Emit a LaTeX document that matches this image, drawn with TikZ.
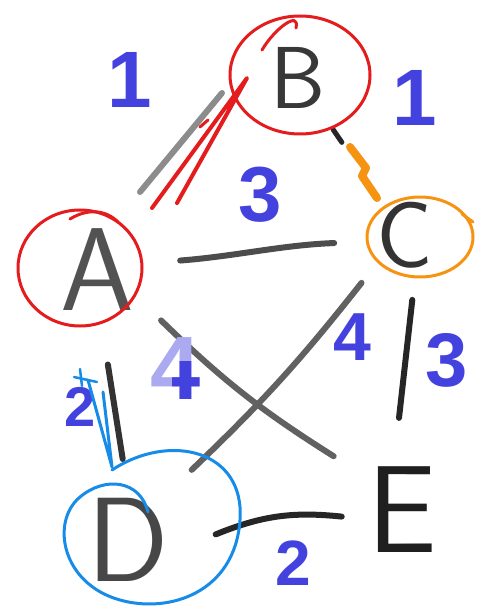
\documentclass[tikz,border=0pt]{standalone}
\usepackage{fontspec}
\newfontfamily\numfont{Liberation Sans}
\usetikzlibrary{calc}
\definecolor{wtblue}{RGB}{68,66,222}
\definecolor{markred}{RGB}{228,28,30}
\definecolor{markorange}{RGB}{246,148,18}
\definecolor{markblue}{RGB}{22,140,232}
\tikzset{
  vertex/.style={inner sep=0pt, font=\fontsize{#1}{#1}\selectfont\sffamily},
  weight/.style={inner sep=0pt, text=wtblue, font=\fontsize{#1}{#1}\selectfont\numfont\bfseries},
  edge/.style={line width=6pt, black!70},
  ring/.style={line width=3pt}
}
\begin{document}
\begin{tikzpicture}[x=1pt, y=-1pt, line cap=round, line join=round]
    \useasboundingbox[fill=white] (0,0) rectangle (480,609);

    % Vertices
    \node[vertex=118, text=black!68] (A) at (97,270) {A};
    \node[vertex=88, text=black!78] (B) at (298,78) {B};
    \node[vertex=94, text=black!80] (C) at (405,235) {C};
    \node[vertex=120, text=black!72] (D) at (128,540) {D};
    \node[vertex=124, text=black!88] (E) at (402,510) {E};

    % Edges
    \draw[edge, black!45] ($(A)+(43,-78)$) -- ($(B)+(-76,15)$);
    \draw[edge, black!85, line width=5pt] ($(B)!.33!(C)$) -- ($(B)!.41!(C)$);
    \draw[edge] ($(A)!.27!(C)$) .. controls ($(A)!.45!(C)+(0,2)$) and ($(A)!.6!(C)+(0,-4)$) .. ($(A)!.77!(C)$);
    \draw[edge, black!62] ($(A)!.21!(E)$) to[bend right=6] ($(A)!.776!(E)$);
    \draw[edge, black!62] ($(C)!.157!(D)$) to[bend left=4] ($(C)!.77!(D)$);
    \draw[edge, black!85] ($(C)!.236!(E)+(8,0)$) -- ($(C)!.665!(E)-(4,0)$);
    \draw[edge, black!80] ($(A)!.35!(D)$) -- ($(A)!.70!(D)+(4,0)$);
    \draw[edge, black!85] ($(D)!.32!(E)+(0,4)$) to[bend left=14] ($(D)!.78!(E)$);

    % Weights
    \node[weight=80] (wAB) at (130,80) {1};
    \node[weight=80] (wBC) at (415,98) {1};
    \node[weight=78] (wAC) at (260,195) {3};
    \node[weight=68] (wCD) at (352,337) {4};
    \node[weight=76] (wCE) at (447,360) {3};
    \node[weight=90, text=wtblue!45] (wAE) at (176,369) {4};
    \begin{scope}
      \clip (172,361) rectangle (200,410);
      \node[weight=90] at (176,369) {4};
    \end{scope}
    \node[weight=56] (wAD) at (80,407) {2};
    \node[weight=64] (wDE) at (293,563) {2};

    % Red marks on A and B
    \draw[ring, markred] (80,268) ellipse [x radius=62, y radius=58];
    \draw[ring, markred] (70,219) .. controls (88,208) and (106,210) .. (118,222);
    \draw[ring, markred] (300,75) ellipse [x radius=70, y radius=59];
    \draw[ring, markred] (262,50) .. controls (275,28) and (300,10) .. (296,28);
    \draw[ring, markred, line width=4pt] (152,208) -- (247,78) -- (177,203);
    \draw[ring, markred] (200,127) -- (208,120);

    % Orange mark on C
    \draw[ring, markorange] (420,237) ellipse [x radius=53, y radius=40];
    \draw[ring, markorange] (462,214) -- (473,222);
    \draw[markorange, line width=8pt] (350,147) -- (366,168) -- (362,176) -- (377,198);

    % Blue mark on D
    \draw[ring, markblue] (112,467) -- (88,380) (112,467) -- (103,392);
    \draw[ring, markblue, line width=2.5pt] (74,377) -- (97,382) (80,369) -- (82,386);
    \draw[ring, markblue] (112,470) .. controls (170,432) and (245,450) .. (240,520)
      .. controls (235,592) and (170,614) .. (120,600)
      .. controls (62,584) and (50,522) .. (80,497)
      .. controls (105,476) and (140,480) .. (148,512);
\end{tikzpicture}
\end{document}
